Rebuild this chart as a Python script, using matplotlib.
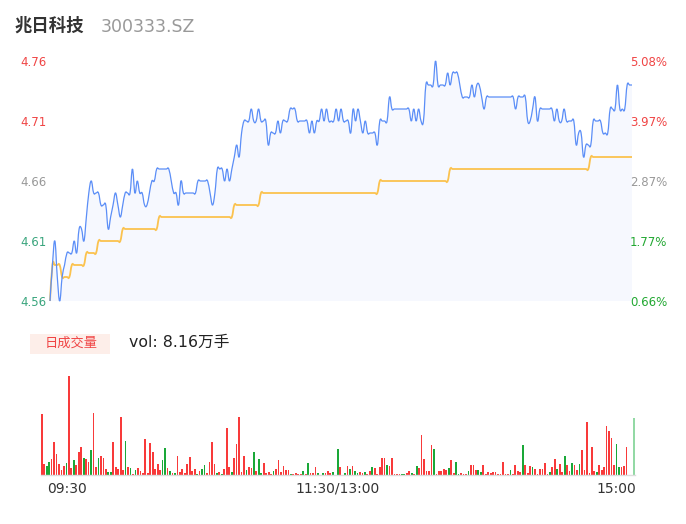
import matplotlib
matplotlib.use("Agg")
import matplotlib.pyplot as plt
import numpy as np
from matplotlib.patches import PathPatch, Rectangle
from matplotlib.path import Path

# ---- data (one point per minute, 09:30 .. 15:00) ----
stock_name = "兆日科技"
stock_code = "300333.SZ"
pre_close = 4.53
total_vol_label = "vol: 8.16万手"

price = [
    4.56, 4.59, 4.61, 4.58, 4.56, 4.58, 4.59, 4.60, 4.60, 4.60,
    4.61, 4.60, 4.62, 4.62, 4.61, 4.63, 4.65, 4.66, 4.65, 4.65,
    4.65, 4.64, 4.64, 4.64, 4.62, 4.63, 4.64, 4.65, 4.64, 4.63,
    4.64, 4.65, 4.65, 4.65, 4.67, 4.65, 4.66, 4.65, 4.65, 4.64,
    4.64, 4.65, 4.66, 4.66, 4.67, 4.67, 4.67, 4.67, 4.67, 4.67,
    4.66, 4.65, 4.65, 4.64, 4.66, 4.65, 4.65, 4.65, 4.65, 4.65,
    4.65, 4.66, 4.66, 4.66, 4.66, 4.66, 4.65, 4.64, 4.65, 4.67,
    4.67, 4.67, 4.66, 4.67, 4.66, 4.67, 4.68, 4.69, 4.68, 4.70,
    4.71, 4.71, 4.71, 4.72, 4.71, 4.71, 4.72, 4.71, 4.71, 4.71,
    4.69, 4.70, 4.70, 4.70, 4.71, 4.70, 4.71, 4.71, 4.71, 4.72,
    4.72, 4.72, 4.71, 4.71, 4.71, 4.71, 4.71, 4.70, 4.71, 4.70,
    4.71, 4.71, 4.72, 4.71, 4.72, 4.71, 4.71, 4.71, 4.72, 4.71,
    4.72, 4.71, 4.71, 4.71, 4.70, 4.72, 4.71, 4.72, 4.71, 4.70,
    4.71, 4.70, 4.70, 4.70, 4.70, 4.69, 4.71, 4.71, 4.71, 4.71,
    4.73, 4.72, 4.72, 4.72, 4.72, 4.72, 4.72, 4.72, 4.72, 4.71,
    4.72, 4.71, 4.72, 4.71, 4.71, 4.74, 4.74, 4.74, 4.74, 4.76,
    4.74, 4.74, 4.74, 4.74, 4.75, 4.74, 4.75, 4.75, 4.75, 4.74,
    4.73, 4.73, 4.73, 4.73, 4.74, 4.73, 4.74, 4.74, 4.73, 4.72,
    4.73, 4.73, 4.73, 4.73, 4.73, 4.73, 4.73, 4.73, 4.73, 4.73,
    4.73, 4.73, 4.72, 4.73, 4.73, 4.73, 4.73, 4.71, 4.71, 4.72,
    4.73, 4.71, 4.72, 4.72, 4.72, 4.72, 4.72, 4.72, 4.71, 4.72,
    4.71, 4.71, 4.72, 4.71, 4.71, 4.71, 4.71, 4.69, 4.70, 4.70,
    4.68, 4.69, 4.69, 4.69, 4.71, 4.71, 4.71, 4.71, 4.70, 4.70,
    4.70, 4.72, 4.72, 4.72, 4.74, 4.72, 4.72, 4.72, 4.74, 4.74,
    4.74,
]

# average price line is a staircase: level and how many minutes it holds
avg_levels = [4.56, 4.59, 4.58, 4.59, 4.60, 4.61, 4.62, 4.63, 4.64, 4.65, 4.66, 4.67, 4.68]
avg_runs = [1, 4, 4, 6, 5, 10, 15, 31, 11, 49, 29, 58, 18]

volume = [
    1930, 340, 280, 410, 500, 1030, 660, 350, 160, 290,
    370, 3130, 230, 470, 320, 730, 880, 530, 500, 400,
    790, 1950, 260, 550, 600, 530, 200, 90, 90, 1030,
    240, 190, 1820, 160, 1080, 240, 210, 30, 160, 230,
    130, 70, 1140, 50, 1000, 730, 190, 340, 160, 470,
    840, 220, 140, 50, 50, 600, 90, 180, 70, 350,
    560, 140, 190, 30, 130, 190, 310, 70, 400, 1030,
    350, 50, 90, 30, 190, 1480, 240, 100, 530, 980,
    1820, 100, 600, 160, 250, 230, 740, 140, 510, 70,
    380, 70, 100, 30, 130, 190, 470, 90, 290, 160,
    170, 40, 40, 60, 40, 20, 130, 30, 370, 50,
    50, 260, 70, 10, 70, 70, 130, 50, 100, 10,
    820, 260, 10, 70, 280, 190, 280, 130, 50, 90,
    50, 90, 40, 130, 260, 230, 30, 260, 530, 530,
    320, 290, 550, 30, 30, 30, 30, 30, 50, 130,
    50, 20, 280, 230, 1260, 510, 140, 130, 950, 820,
    30, 130, 140, 200, 170, 230, 470, 50, 400, 30,
    50, 30, 30, 130, 320, 320, 160, 160, 90, 310,
    40, 90, 50, 90, 90, 40, 40, 410, 30, 20,
    160, 40, 310, 140, 90, 950, 310, 70, 280, 250,
    200, 30, 180, 180, 370, 30, 100, 260, 500, 190,
    340, 100, 610, 320, 120, 370, 320, 160, 360, 790,
    160, 1670, 50, 880, 130, 100, 330, 160, 260, 1550,
    1390, 1160, 320, 980, 240, 260, 280, 880, 0, 0,
    1790,
]

# r = up minute, g = down minute, a = closing auction
direction = (
    "rrggrrrrrr" "grrgrrrgrr" "grrgrrrggr" "rrrrgrgrgr" "rrrrrrrrrg"
    "grgrgrrrrr" "rrrgrggrrr" "rgrgrrrgrr" "rrrgrrgrgg" "rrrrgrrrrr"
    "rgrrrrgrgr" "rrgrgrrrgr" "grrgrgrggr" "rgrrgrrrrr" "grrrrrggrr"
    "grgrrrrrrg" "rrrrrgrrgg" "rrrgrrrggr" "rrrrrrrrrr" "grrrrgrrrg"
    "rrrrrrgrrg" "rrgrrgrrgr" "rrrrrgrrrr" "rrrggrrrrr" "a"
)

price_ticks = [4.56, 4.61, 4.66, 4.71, 4.76]
tick_colors = ["#3aa57d", "#3aa57d", "#999999", "#f04545", "#f04545"]
pct_colors = ["#22a832", "#22a832", "#999999", "#f04545", "#f04545"]
time_labels = ["09:30", "11:30/13:00", "15:00"]
time_pos = [0, 120, 240]

W, H = 686, 524


def fx(px):
    return px / W


def fy(py):
    return 1 - py / H


def smooth_verts(xs, ys, t=0.2):
    pts = np.column_stack([xs, ys])
    n = len(pts)
    verts = [pts[0]]
    codes = [Path.MOVETO]
    for i in range(n - 1):
        prev_pt = pts[max(i - 1, 0)]
        next_pt = pts[min(i + 2, n - 1)]
        c1 = pts[i] + (pts[i + 1] - prev_pt) * t
        c2 = pts[i + 1] - (next_pt - pts[i]) * t
        verts += [c1, c2, pts[i + 1]]
        codes += [Path.CURVE4] * 3
    return verts, codes


minutes = np.arange(len(price))
avg_price = np.repeat(avg_levels, avg_runs)
ylo, yhi = price_ticks[0], price_ticks[-1]

fig = plt.figure(figsize=(W / 100, H / 100), dpi=100)

# ---- price panel ----
ax = fig.add_axes([fx(50), fy(301), fx(632) - fx(50), fy(61) - fy(301)])
ax.set_xlim(0, 240)
ax.set_ylim(ylo, yhi)
ax.axis("off")

v, c = smooth_verts(minutes, price)
fill_v = v + [(minutes[-1], ylo), (0, ylo), (0, price[0])]
fill_c = c + [Path.LINETO, Path.LINETO, Path.CLOSEPOLY]
ax.add_patch(PathPatch(Path(fill_v, fill_c), facecolor="#f6f8fe", edgecolor="none"))
ax.add_patch(PathPatch(Path(v, c), facecolor="none", edgecolor="#5b8ef7",
                       linewidth=0.9, clip_on=False, zorder=3))

va, ca = smooth_verts(minutes, avg_price)
ax.add_patch(PathPatch(Path(va, ca), facecolor="none", edgecolor="#fbc24e",
                       linewidth=1.3, clip_on=False, zorder=2))

for tick, col, pcol in zip(price_ticks, tick_colors, pct_colors):
    ypix = 61 + (yhi - tick) / (yhi - ylo) * 240 + 1.5
    fig.text(fx(20), fy(ypix), f"{tick:.2f}", color=col, fontsize=8.5,
             ha="left", va="center")
    pct = (tick / pre_close - 1) * 100
    fig.text(fx(630), fy(ypix), f"{pct:.2f}%", color=pcol, fontsize=8.5,
             ha="left", va="center")

# ---- header ----
fig.text(fx(15), fy(26), stock_name, fontsize=12.5, color="#333333",
         family=["Noto Sans CJK SC", "DejaVu Sans"], weight="bold",
         ha="left", va="center")
fig.text(fx(101), fy(26.5), stock_code, fontsize=12.5, color="#999999",
         ha="left", va="center")

# ---- volume header ----
fig.patches.append(Rectangle((fx(30), fy(354)), fx(110) - fx(30), fy(334) - fy(354),
                             transform=fig.transFigure, facecolor="#fdeee9",
                             edgecolor="none"))
fig.text(fx(71), fy(343.5), "日成交量", fontsize=9.5, color="#f04545",
         family=["Noto Sans CJK SC", "DejaVu Sans"], ha="center", va="center")
fig.text(fx(129), fy(342.5), total_vol_label, fontsize=11.3, color="#222222",
         family=["DejaVu Sans", "Noto Sans CJK SC"], ha="left", va="center")

# ---- volume panel ----
axv = fig.add_axes([fx(40.5), fy(475), fx(635) - fx(40.5), fy(376) - fy(475)])
axv.set_xlim(-0.5, 240.5)
axv.set_ylim(0, max(volume))
axv.axis("off")
bar_colors = []
for d in direction:
    if d == "r":
        bar_colors.append("#f83a3a")
    elif d == "g":
        bar_colors.append("#1aa838")
    else:
        bar_colors.append("#93d9a5")
axv.bar(minutes, volume, width=0.7, color=bar_colors, linewidth=0)
axv.axhline(0, color="#dddddd", linewidth=1.0, clip_on=False)

aligns = ["left", "center", "right"]
offsets = [5, 0, 2]
for lab, pos, ha, off in zip(time_labels, time_pos, aligns, offsets):
    axv.annotate(lab, xy=(pos, 0), xytext=(off, -14), textcoords="offset pixels",
                 ha=ha, va="center", fontsize=10, color="#333333",
                 annotation_clip=False)

fig.savefig("out.png", dpi=100)
